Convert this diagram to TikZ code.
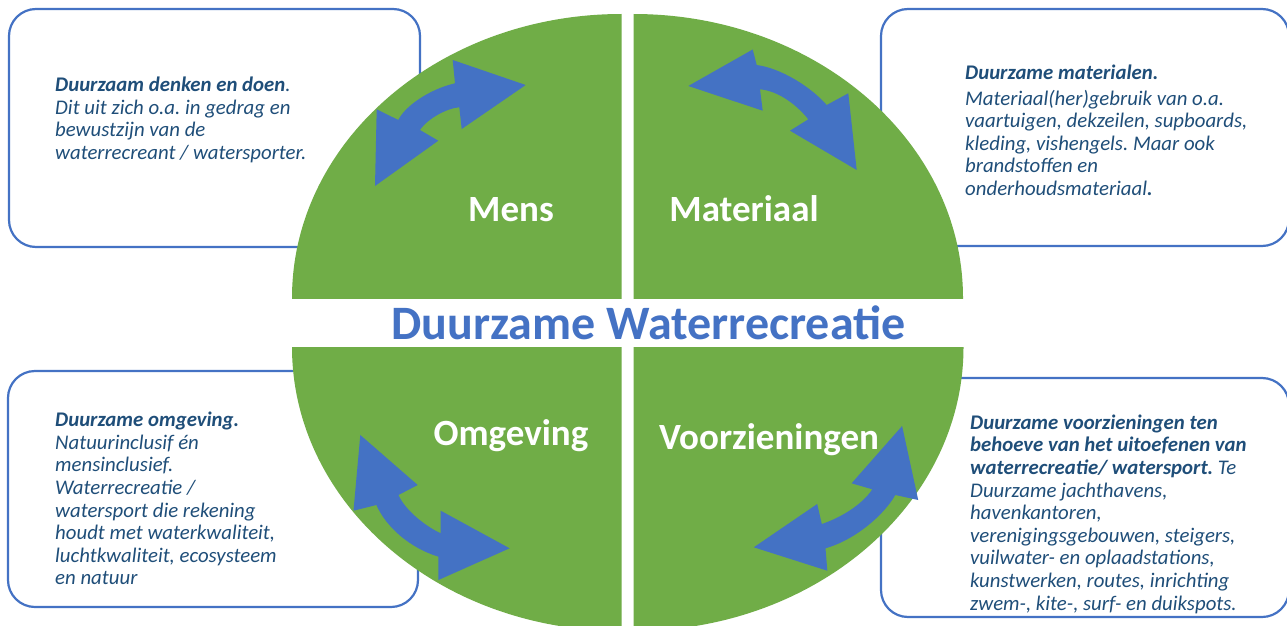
\documentclass[tikz,border=0pt]{standalone}
\usepackage{fontspec}
\setmainfont{Carlito}
\definecolor{grn}{HTML}{70AD47}
\definecolor{blu}{HTML}{4472C4}
\definecolor{txt}{HTML}{1F4E79}
\frenchspacing
\begin{document}
\begin{tikzpicture}[x=1pt,y=-1pt,
  box/.style={draw=blu, line width=2.2pt, fill=white, rounded corners=27pt},
  quad/.style={fill=grn},
  arr/.style={fill=blu},
  lbl/.style={text=white, font=\fontsize{37}{40}\selectfont\bfseries, inner sep=0, anchor=base},
  ttl/.style={text=blu, font=\fontsize{48}{52}\selectfont\bfseries, inner sep=0, anchor=base},
  desc/.style={text=txt, inner sep=0, anchor=base west, font=\fontsize{20.8}{22.6}\selectfont\itshape\frenchspacing}]
\useasboundingbox (0,0) rectangle (1287,626);
\fill[white] (0,0) rectangle (1287,626);
% boxes
\draw[box] (9,9) rectangle (420,247);
\draw[box] (881,9) rectangle (1289,246);
\draw[box] (8,371) rectangle (418,607);
\draw[box] (881,378) rectangle (1289,617);
% quadrants
\begin{scope}\clip (250,0) rectangle (621.5,298); \fill[quad] (621.5,298) ellipse [x radius=329.5pt, y radius=284pt];\end{scope}
\begin{scope}\clip (633.5,0) rectangle (1010,298); \fill[quad] (633.5,298) ellipse [x radius=329.5pt, y radius=284pt];\end{scope}
\begin{scope}\clip (250,347) rectangle (621.5,640); \fill[quad] (621.5,347) ellipse [x radius=329.5pt, y radius=284pt];\end{scope}
\begin{scope}\clip (633.5,347) rectangle (1010,640); \fill[quad] (633.5,347) ellipse [x radius=330pt, y radius=284pt];\end{scope}
% arrows
\fill[arr] (525.7,85) -- (461.7,129) -- (459.3,107.3) .. controls (448,108) and (428,118) .. (420,130) -- (438.3,140.7) -- (375,186) -- (376.7,109.3) -- (398.3,120) .. controls (405,106) and (430,89) .. (455,83.3) -- (452.7,60) -- cycle;
\fill[arr] (688.3,86) -- (752.7,49.5) -- (756.7,65) .. controls (780,68) and (810,86) .. (826.7,105) -- (848.3,93.3) -- (856.7,170) -- (790,130.7) -- (808.3,119.3) .. controls (796,104) and (778,91) .. (760,89.3) -- (762.7,110.7) -- cycle;
\fill[arr] (360.3,435) -- (417.7,485) -- (398.5,495) .. controls (405,510) and (425,526) .. (440.7,533.3) -- (440.7,510.7) -- (509.6,548.3) -- (438.4,580) -- (438.4,556.7) .. controls (410,548) and (386,527) .. (376.4,505) -- (353.5,510.7) -- cycle;
\fill[arr] (902.1,426) -- (918.2,500) -- (895.3,495) .. controls (884,515) and (855,540) .. (825.5,548.3) -- (827.3,570.7) -- (753.8,547.3) -- (817.2,504) -- (821.8,524) .. controls (840,518) and (862,505) .. (872.3,489.3) -- (851.6,483.3) -- cycle;
% labels
\node[lbl] (mens) at (511,221) {Mens};
\node[lbl] (mat) at (744,221) {Materiaal};
\node[lbl] (omg) at (511,445) {Omgeving};
\node[lbl] (voor) at (769,449) {Voorzieningen};
\node[ttl] (title) at (648.5,339) {Duurzame Waterrecreatie};
% descriptions
\node[desc] (d1) at (55,91.7) {\parbox[t]{350pt}{\raggedright\frenchspacing\textbf{Duurzaam denken en doen}.\\Dit uit zich o.a. in gedrag en\\bewustzijn van de\\waterrecreant / watersporter.}};
\node[desc] (d2) at (965,79) {\parbox[t]{340pt}{\raggedright\frenchspacing\textbf{Duurzame materialen.}\\[3.4pt]Materiaal(her)gebruik van o.a.\\vaartuigen, dekzeilen, supboards,\\kleding, vishengels. Maar ook\\brandstoffen en\\onderhoudsmateriaal\textbf{.}}};
\node[desc] (d3) at (55,426.7) {\parbox[t]{350pt}{\raggedright\frenchspacing\textbf{Duurzame omgeving.}\\Natuurinclusif én\\mensinclusief.\\Waterrecreatie /\\watersport die rekening\\houdt met waterkwaliteit,\\luchtkwaliteit, ecosysteem\\en natuur}};
\node[desc] (d4) at (970,429.3) {\parbox[t]{340pt}{\raggedright\frenchspacing\textbf{Duurzame voorzieningen ten}\\\textbf{behoeve van het uitoefenen van}\\\textbf{waterrecreatie/ watersport.} Te\\Duurzame jachthavens,\\havenkantoren,\\verenigingsgebouwen, steigers,\\vuilwater- en oplaadstations,\\kunstwerken, routes, inrichting\\zwem-, kite-, surf- en duikspots.}};
\end{tikzpicture}
\end{document}
